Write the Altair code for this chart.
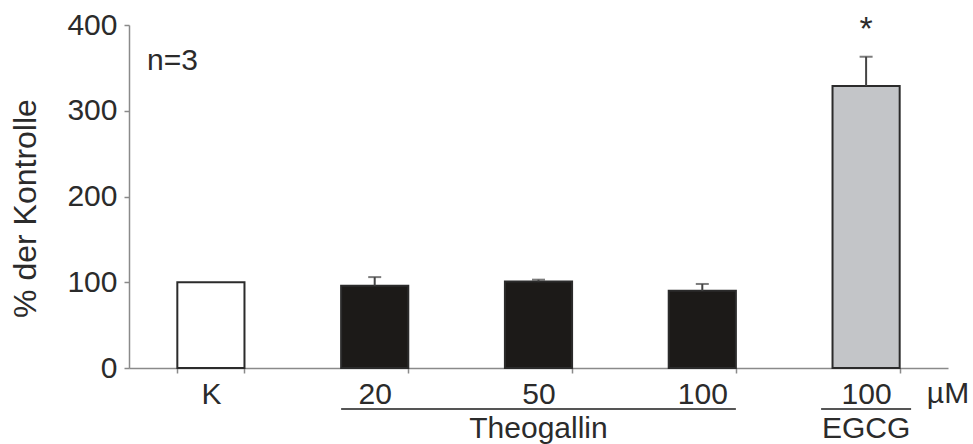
import altair as alt
import pandas as pd

# Treatments (dose in µM) and their measured response, % of control
doses = ["K", "20", "50", "100", "100"]
substances = ["Kontrolle", "Theogallin", "Theogallin", "Theogallin", "EGCG"]
means = [100, 96, 101, 90, 329]
errors = [0, 10, 2, 8, 34]
significant = ["", "", "", "", "*"]

y_ticks = [0, 100, 200, 300, 400]
fill_domain = ["Kontrolle", "Theogallin", "EGCG"]
fill_range = ["#ffffff", "#1c1a18", "#c3c5c8"]

keys = [f"{d}|{s}" for d, s in zip(doses, substances)]
df = pd.DataFrame({
    "key": keys,
    "dose": doses,
    "substance": substances,
    "mean": means,
    "err": errors,
    "upper": [m + e for m, e in zip(means, errors)],
    "sig": significant,
})

W, H = 819, 343
FONT = "Liberation Sans"
INK = "#2b2b2b"
AXIS = "#8a8a8a"

x_scale = alt.Scale(domain=keys, paddingInner=0.59, paddingOuter=0.295)
y_scale = alt.Scale(domain=[0, 400], nice=False)

x_axis = alt.Axis(
    title=None,
    labelExpr="datum.value ? split(datum.value, '|')[0] : ''",
    labelAngle=0,
    labelFontSize=30,
    labelFont=FONT,
    labelColor=INK,
    labelPadding=6,
    tickBand="extent",
    tickExtra=False,
    tickSize=5,
    tickColor=AXIS,
    tickWidth=1.5,
    domainColor=AXIS,
    domainWidth=1.5,
)
y_axis = alt.Axis(
    title="% der Kontrolle",
    values=y_ticks,
    grid=False,
    labelFontSize=30,
    labelFont=FONT,
    labelColor=INK,
    labelPadding=7,
    tickSize=5,
    tickColor=AXIS,
    tickWidth=1.5,
    domainColor=AXIS,
    domainWidth=1.5,
    titleFont=FONT,
    titleFontSize=32,
    titleFontWeight="normal",
    titleColor=INK,
    titleAngle=270,
    titleAlign="center",
    titleBaseline="middle",
    titleX=-104,
    titleY=183,
)

base = alt.Chart(df)

bars = base.mark_bar(stroke=INK, strokeWidth=2).encode(
    x=alt.X("key:N", scale=x_scale, axis=x_axis, sort=keys),
    y=alt.Y("mean:Q", scale=y_scale, axis=y_axis),
    fill=alt.Fill("substance:N", scale=alt.Scale(domain=fill_domain, range=fill_range), legend=None),
)

with_err = base.transform_filter("datum.err > 0")

err_rule = with_err.mark_rule(color="#444444", strokeWidth=2).encode(
    x=alt.X("key:N", sort=keys),
    y="mean:Q",
    y2="upper:Q",
)
err_cap = with_err.mark_tick(color="#444444", thickness=2, size=13).encode(
    x=alt.X("key:N", sort=keys),
    y="upper:Q",
)

stars = base.transform_filter("datum.sig != ''").mark_text(
    font=FONT, fontSize=34, color=INK, baseline="alphabetic", dy=-17
).encode(
    x=alt.X("key:N", sort=keys),
    y="upper:Q",
    text="sig:N",
)

# group brackets under the dose labels
theo = pd.DataFrame({"start": [keys[1]], "end": [keys[3]], "mid": [keys[2]], "label": ["Theogallin"]})
egcg = pd.DataFrame({"start": [keys[4]], "end": [keys[4]], "mid": [keys[4]], "label": ["EGCG"]})

theo_line = alt.Chart(theo).mark_rule(color="#555555", strokeWidth=2).encode(
    x=alt.X("start:N", sort=keys, bandPosition=0),
    x2=alt.X2("end:N", bandPosition=1),
    y=alt.value(384),
)
egcg_line = alt.Chart(egcg).mark_rule(
    color="#555555", strokeWidth=2, xOffset=-45, x2Offset=45
).encode(
    x=alt.X("start:N", sort=keys),
    x2=alt.X2("end:N"),
    y=alt.value(384),
)
group_text = alt.Chart(pd.concat([theo, egcg])).mark_text(
    font=FONT, fontSize=30, color=INK, baseline="alphabetic"
).encode(
    x=alt.X("mid:N", sort=keys),
    y=alt.value(413),
    text="label:N",
)

unit = alt.Chart(pd.DataFrame({"t": ["µM"]})).mark_text(
    font=FONT, fontSize=30, color=INK, baseline="alphabetic", align="center"
).encode(x=alt.value(W), y=alt.value(378), text="t:N")

n_label = alt.Chart(pd.DataFrame({"t": ["n=3"]})).mark_text(
    font=FONT, fontSize=30, color=INK, baseline="alphabetic", align="left"
).encode(x=alt.value(18), y=alt.value(45), text="t:N")

chart = alt.layer(
    bars, err_rule, err_cap, stars, theo_line, egcg_line, group_text, unit, n_label
).properties(
    width=W,
    height=H,
    padding={"left": 129, "top": 25, "right": 25, "bottom": 76},
    autosize=alt.AutoSizeParams(type="none"),
    background="white",
).configure_view(stroke=None)

chart.save("out.html", embed_options={"renderer": "svg", "actions": False})
